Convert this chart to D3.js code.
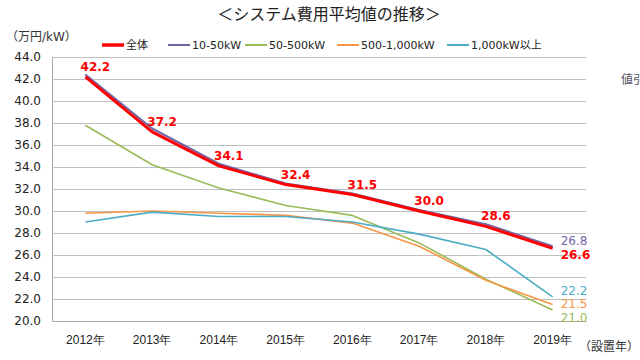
<!DOCTYPE html>
<html><head><meta charset="utf-8">
<script src="https://cdn.jsdelivr.net/npm/d3@7"></script>
<style>
body{margin:0;background:#fff;}
svg{display:block;font-family:"DejaVu Sans","Noto Sans CJK JP",sans-serif;}
</style></head><body>
<svg id="c" width="640" height="360"></svg>
<script>
const years = ["2012年","2013年","2014年","2015年","2016年","2017年","2018年","2019年"];
const seriesNames = ["全体","10-50kW","50-500kW","500-1,000kW","1,000kW以上"];
const total     = [42.2, 37.2, 34.1, 32.4, 31.5, 30.0, 28.6, 26.6];
const kw10_50   = [42.4, 37.5, 34.3, 32.5, 31.6, 30.1, 28.8, 26.8];
const kw50_500  = [37.8, 34.2, 32.1, 30.5, 29.6, 27.1, 23.8, 21.0];
const kw500_1000= [29.8, 30.0, 29.8, 29.6, 28.9, 26.8, 23.7, 21.5];
const kw1000up  = [29.0, 29.9, 29.5, 29.5, 29.0, 27.9, 26.5, 22.2];
const yTicks = [20,22,24,26,28,30,32,34,36,38,40,42,44];
const colors = ["#ff0000","#7464a6","#9bbb59","#f79646","#4bacc6"];

const svg = d3.select("#c");
const m = {l:52, r:586, t:57, b:321};
const x = d3.scaleBand().domain(years).range([m.l, m.r]);
const cx = d => x(d) + x.bandwidth()/2;
const y = d3.scaleLinear().domain([20,44]).range([m.b, m.t]);

// title
svg.append("text").attr("x",329).attr("y",20).attr("text-anchor","middle")
  .attr("font-size",16).attr("fill","#222").attr("font-family","Noto Sans CJK JP")
  .text("＜システム費用平均値の推移＞");
svg.append("text").attr("x",6).attr("y",41).attr("font-size",12).attr("fill","#333")
  .text("（万円/kW）");
svg.append("text").attr("x",621).attr("y",84).attr("font-size",12).attr("fill","#556")
  .attr("font-family","Noto Sans CJK JP").text("値引");

// gridlines
const yAxis = d3.axisLeft(y).tickValues(yTicks).tickSize(-(m.r-m.l)).tickFormat(d3.format(".1f"));
const gy = svg.append("g").attr("transform",`translate(${m.l},0)`).call(yAxis);
gy.select(".domain").attr("stroke","#a6a6a6");
gy.selectAll(".tick line").attr("stroke","#bfbfbf").attr("stroke-width",1.2);
gy.selectAll(".tick text").attr("x",-11).attr("font-size",12).attr("fill","#222")
  .attr("font-family","DejaVu Sans");
const xAxis = d3.axisBottom(x).tickSize(0).tickPadding(14);
const gx = svg.append("g").attr("transform",`translate(0,${m.b})`).call(xAxis);
gx.select(".domain").attr("stroke","#a6a6a6");
gx.selectAll(".tick text").attr("font-size",12).attr("fill","#222");
svg.append("text").attr("x",579).attr("y",351).attr("font-size",12).attr("fill","#333")
  .text("（設置年）");

// lines
const data = [total,kw10_50,kw50_500,kw500_1000,kw1000up];
const line = d3.line().x((d,i)=>cx(years[i])).y(d=>y(d));
const order = [2,3,4,1,0];
order.forEach(k=>{
  svg.append("path").attr("d",line(data[k])).attr("fill","none")
    .attr("stroke",colors[k]).attr("stroke-width",k===0?3:(k===1?2:1.6))
    .attr("stroke-linejoin","round");
});

// red data labels
svg.append("g").selectAll("text").data(total.slice(0,-1)).join("text")
  .attr("x",(d,i)=>cx(years[i])+10).attr("y",d=>y(d)-6)
  .attr("text-anchor","middle").attr("font-size",12).attr("font-weight","bold")
  .attr("fill","#ff0000").text(d=>d.toFixed(1));

// end labels with collision avoidance
const last = years.length-1;
let ends = data.map((s,k)=>({k, v:s[last], y:y(s[last])})).sort((a,b)=>a.y-b.y);
function relax(group){
  const gap=13.5;
  for(let it=0;it<80;it++){
    for(let i=1;i<group.length;i++){
      const d = group[i].y-group[i-1].y;
      if(d<gap){const s=(gap-d)/2; group[i].y+=s; group[i-1].y-=s;}
    }
  }
}
relax(ends);
svg.append("g").selectAll("text").data(ends).join("text")
  .attr("x",cx(years[last])+8).attr("y",d=>d.y+4.5)
  .attr("font-size",12).attr("font-weight",d=>d.k===0?"bold":"normal")
  .attr("fill",d=>colors[d.k]).text(d=>d.v.toFixed(1));

// legend
const legX = [102,168,245,337,447];
const lg = svg.append("g");
seriesNames.forEach((n,k)=>{
  lg.append("line").attr("x1",legX[k]).attr("x2",legX[k]+22).attr("y1",45).attr("y2",45)
    .attr("stroke",colors[k]).attr("stroke-width",k===0?3.5:2);
  lg.append("text").attr("x",legX[k]+24).attr("y",49).attr("font-size",11).attr("fill","#222")
    .text(n);
});
</script></body></html>
